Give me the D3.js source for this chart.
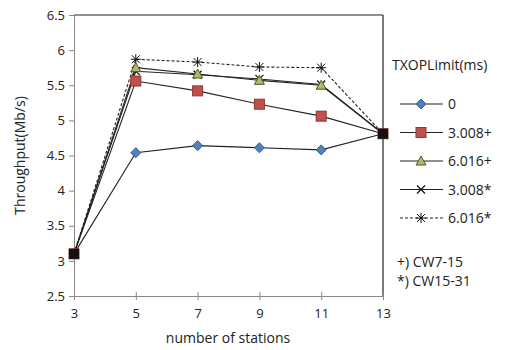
<!DOCTYPE html>
<html>
<head>
<meta charset="utf-8">
<script src="https://cdn.jsdelivr.net/npm/d3@7"></script>
<style>
  body { margin: 0; background: #fff; }
  text { font-family: "Open Sans", "Noto Sans", sans-serif; fill: #222; }
</style>
</head>
<body>
<script>
// data
const stations = [3, 5, 7, 9, 11, 13];
const txop0      = [3.10, 4.54, 4.64, 4.61, 4.58, 4.81];
const txop3008p  = [3.10, 5.56, 5.42, 5.23, 5.06, 4.81];
const txop6016p  = [3.10, 5.75, 5.66, 5.57, 5.50, 4.81];
const txop3008s  = [3.10, 5.70, 5.65, 5.59, 5.51, 4.81];
const txop6016s  = [3.10, 5.87, 5.83, 5.76, 5.75, 4.81];
const yTicks = [2.5, 3, 3.5, 4, 4.5, 5, 5.5, 6, 6.5];

const series = [
  {name: '0',      values: txop0,     marker: 'diamond',  fill: '#4f81bd', stroke: '#385d8a', dash: null},
  {name: '3.008+', values: txop3008p, marker: 'square',   fill: '#c0504d', stroke: '#8c3836', dash: null},
  {name: '6.016+', values: txop6016p, marker: 'triangle', fill: '#b5b86a', stroke: '#4f5a2a', dash: null},
  {name: '3.008*', values: txop3008s, marker: 'x',        fill: 'none',    stroke: '#111',    dash: null},
  {name: '6.016*', values: txop6016s, marker: 'star',     fill: 'none',    stroke: '#111',    dash: '3,2'}
];

const W = 514, H = 350;
const svg = d3.select('body').append('svg')
    .attr('width', W)
    .attr('height', H);

const x = d3.scaleLinear().domain([3, 13]).range([74, 383]);
const y = d3.scaleLinear().domain([2.5, 6.5]).range([296, 15]);

// plot border: grey left/bottom axes, black top/right
svg.append('line').attr('x1', x(3)).attr('x2', x(13)).attr('y1', y(6.5)).attr('y2', y(6.5))
    .attr('stroke', '#222').attr('stroke-width', 1.2);
svg.append('line').attr('x1', x(13)).attr('x2', x(13)).attr('y1', y(6.5)).attr('y2', y(2.5))
    .attr('stroke', '#222').attr('stroke-width', 1.2);

const xAxis = svg.append('g')
    .attr('transform', `translate(0,${y(2.5)})`)
    .call(d3.axisBottom(x).tickValues(stations).tickSize(5).tickSizeOuter(0).tickFormat(d3.format('d')));
const yAxis = svg.append('g')
    .attr('transform', `translate(${x(3)},0)`)
    .call(d3.axisLeft(y).tickValues(yTicks).tickSize(5).tickSizeOuter(0).tickFormat(d => d));

[xAxis, yAxis].forEach(a => {
  a.select('.domain').attr('stroke', '#888');
  a.selectAll('.tick line').attr('stroke', '#888');
  a.selectAll('.tick text').attr('font-size', 13).attr('fill', '#333')
    .style('font-family', '"Open Sans", sans-serif');
});
xAxis.selectAll('.tick line').attr('y2', 4).attr('y1', -4);
xAxis.selectAll('.tick text').attr('dy', '1.1em');
yAxis.selectAll('.tick text').attr('x', -9);

// axis titles
svg.append('text')
    .attr('x', 228).attr('y', 343)
    .attr('text-anchor', 'middle')
    .attr('font-size', 14)
    .text('number of stations');
svg.append('text')
    .attr('transform', `translate(25,${(y(2.5) + y(6.5)) / 2}) rotate(-90)`)
    .attr('text-anchor', 'middle')
    .attr('font-size', 14)
    .text('Throughput(Mb/s)');

// marker drawing
function drawMarker(sel, s) {
  if (s.marker === 'diamond') {
    sel.append('path').attr('d', 'M0,-5L5,0L0,5L-5,0Z')
       .attr('fill', s.fill).attr('stroke', s.stroke).attr('stroke-width', 1);
  } else if (s.marker === 'square') {
    sel.append('rect').attr('x', -5).attr('y', -5).attr('width', 10).attr('height', 10)
       .attr('fill', s.fill).attr('stroke', s.stroke).attr('stroke-width', 1);
  } else if (s.marker === 'triangle') {
    sel.append('path').attr('d', 'M0,-5L5,4L-5,4Z')
       .attr('fill', s.fill).attr('stroke', s.stroke).attr('stroke-width', 1);
  } else if (s.marker === 'x') {
    sel.append('path').attr('d', 'M-4,-4L4,4M-4,4L4,-4')
       .attr('stroke', s.stroke).attr('stroke-width', 1.2);
  } else if (s.marker === 'star') {
    sel.append('path').attr('d', 'M-4,-4L4,4M-4,4L4,-4M-5,0L5,0M0,-5L0,5')
       .attr('stroke', s.stroke).attr('stroke-width', 1);
  }
}

const line = d3.line()
    .x((d, i) => x(stations[i]))
    .y(d => y(d));

// lines, drawn back to front
series.slice().reverse().forEach(s => {
  svg.append('path')
      .datum(s.values)
      .attr('d', line)
      .attr('fill', 'none')
      .attr('stroke', '#222')
      .attr('stroke-width', 1.1)
      .attr('stroke-dasharray', s.dash);
});

series.slice().reverse().forEach(s => {
  svg.append('g').selectAll('g')
    .data(s.values)
    .join('g')
      .attr('transform', (d, i) => `translate(${x(stations[i])},${y(d)})`)
      .each(function () { drawMarker(d3.select(this), s); });
});

// markers overlap into a black blob at the start and end points
[3, 13].forEach((st, k) => {
  svg.append('rect')
      .attr('x', x(st) - 5).attr('y', y(k === 0 ? 3.1 : 4.81) - 5)
      .attr('width', 10).attr('height', 10)
      .attr('fill', '#111');
});

// legend
const legend = svg.append('g').attr('transform', 'translate(392,0)');
legend.append('text')
    .attr('x', 0).attr('y', 70)
    .attr('font-size', 14)
    .text('TXOPLimit(ms)');

const item = legend.selectAll('g.item')
  .data(series)
  .join('g')
    .attr('class', 'item')
    .attr('transform', (d, i) => `translate(0,${104 + i * 28.5})`);

item.append('line')
    .attr('x1', 8).attr('x2', 51)
    .attr('stroke', '#222')
    .attr('stroke-width', 1.1)
    .attr('stroke-dasharray', d => d.dash);
item.append('g')
    .attr('transform', 'translate(29,0)')
    .each(function (d) { drawMarker(d3.select(this), d); });
item.append('text')
    .attr('x', 56).attr('y', 5)
    .attr('font-size', 14)
    .text(d => d.name);

const notes = ['+) CW7-15', '*) CW15-31'];
legend.selectAll('text.note')
  .data(notes)
  .join('text')
    .attr('class', 'note')
    .attr('x', 5)
    .attr('y', (d, i) => 267 + i * 19)
    .attr('font-size', 14)
    .text(d => d);
</script>
</body>
</html>
